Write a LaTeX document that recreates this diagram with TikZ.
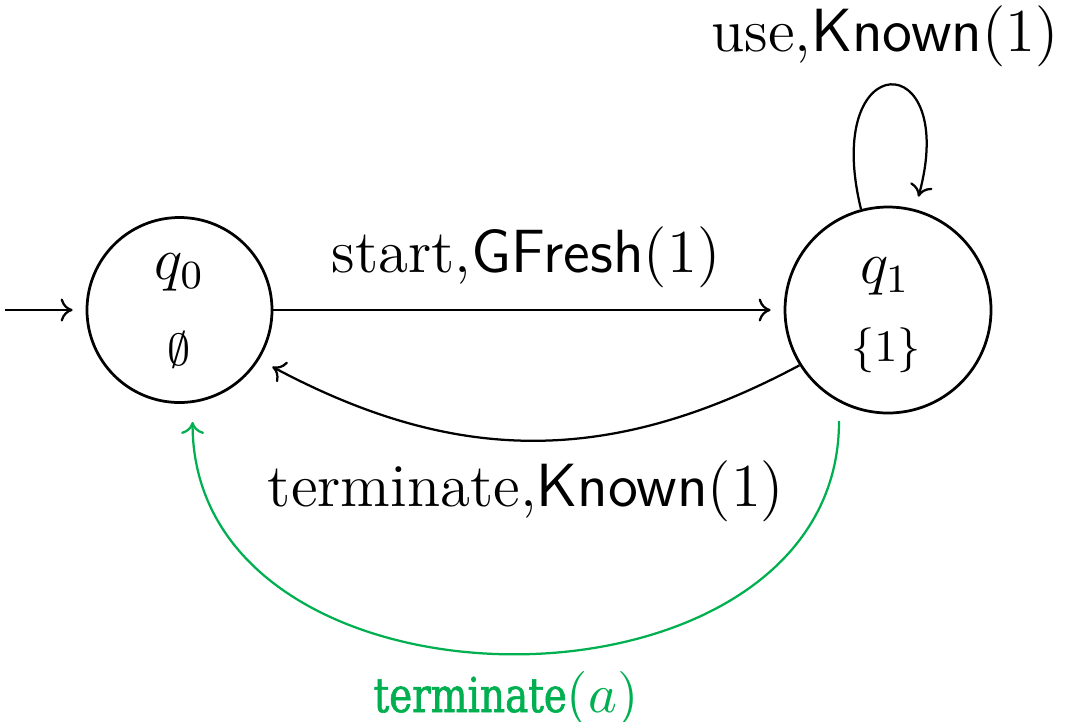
\documentclass[tikz,border=0pt]{standalone}
\usepackage{fontspec}
\newfontfamily\greenfont[FakeStretch=0.9,FakeBold=1.3]{DejaVu Serif Condensed}
\usetikzlibrary{arrows.meta,calc}
\definecolor{tgreen}{RGB}{0,176,80}
\begin{document}
\begin{tikzpicture}[x=0.2pt,y=0.2pt,
  state/.style={circle,draw,line width=0.55pt,inner sep=0pt},
  edge/.style={line width=0.45pt,-{To[length=2.4pt,width=4.6pt]},shorten >=2.6pt},
  grn/.style={draw=tgreen,line width=0.45pt,-{To[length=2.4pt,width=4.6pt]}},
  elabel/.style={font=\fontsize{12.2}{14}\selectfont,inner sep=0pt},
  nlab/.style={font=\fontsize{12}{14}\selectfont,inner sep=0pt},
  slab/.style={font=\fontsize{9}{11}\selectfont,inner sep=0pt},
  glabel/.style={font=\fontsize{9.6}{11}\selectfont\greenfont,text=tgreen,inner sep=0pt},
]
\useasboundingbox (0,0) rectangle (1065,-721);
\node[state,minimum size=37pt] (q0) at (179.5,-310) {};
\node[state,minimum size=41.2pt] (q1) at (888,-310) {};
\node[nlab] (q0n) at (179.5,-272) {$q_0$};
\node[slab] (q0s) at (179.5,-350) {$\emptyset$};
\node[nlab] (q1n) at (885,-276) {$q_1$};
\node[slab] (q1s) at (886,-350) {$\{1\}$};
\coordinate (init) at (5,-310);
\draw[edge] (init) -- (q0);
\draw[edge] (q0) -- (q1);
\node[elabel] (lstart) at (526,-257) {start,\textsf{GFresh}(1)};
\draw[edge] (q1.105) .. controls ($(q1.105)+(-40,164)$) and ($(q1.75)+(45,164)$) .. (q1.75);
\node[elabel] (luse) at (885,-36) {use,\textsf{Known}(1)};
\draw[edge,shorten >=3pt] (q1.-148) .. controls ($(q1.-148)+(-193,-103)$) and ($(q0.-32)+(193,-103)$) .. (q0.-32);
\node[elabel] (lterm) at (526,-491) {terminate,\textsf{Known}(1)};
\draw[grn,shorten <=3.8pt,shorten >=3.8pt] (q1.-118) .. controls ($(q1.-118)+(0,-329)$) and ($(q0.-82)+(0,-329)$) .. (q0.-82);
\node[glabel,anchor=base] (lgreen) at (506,-712) {terminate{\fontsize{10.5}{12}\selectfont$(a)$}};
\end{tikzpicture}
\end{document}
